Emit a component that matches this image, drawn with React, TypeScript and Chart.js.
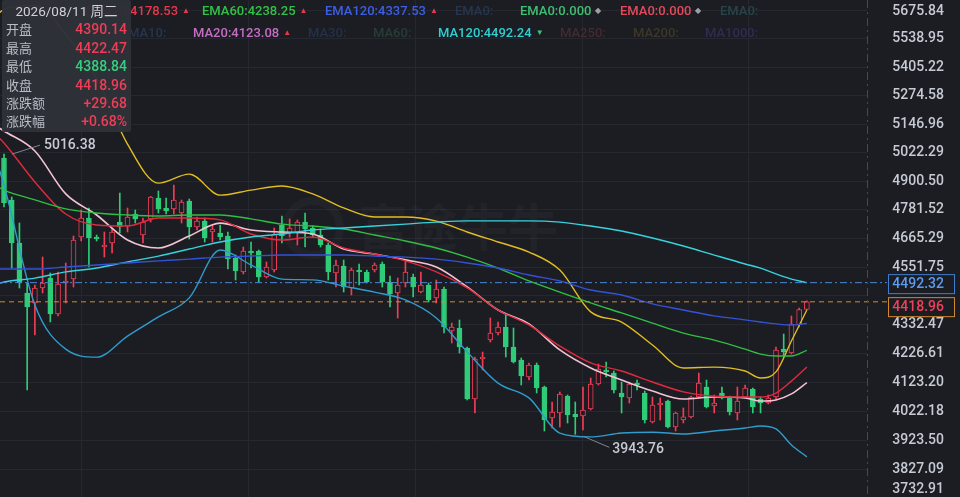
import React, { useEffect, useRef } from "react";
import { Chart, registerables } from "chart.js";

Chart.register(...registerables);

const BG = "#1b1d23";
const UP = "#f03d56";
const DOWN = "#2fcb78";
const GRID = "#25282e";
const NUM_FONT = "Roboto, 'Noto Sans', sans-serif";
const CJK_FONT = "'Noto Sans CJK SC', 'Noto Sans', sans-serif";

const DATE_TEXT = "2026/08/11 周二";

// ---- daily candles (index 0..104) ----
const OPEN = [
  4999.8, 4822.6, 4647.9, 4452.6, 4414.5, 4471.7, 4510.3, 4373.0, 4491.0, 4506.4,
  4671.9, 4748.7, 4671.9, 4631.9, 4647.9, 4732.4, 4716.2, 4765.0, 4679.9, 4744.6,
  4830.9, 4789.8, 4785.5, 4769.1, 4818.4, 4712.2, 4736.5, 4692.0, 4688.0, 4675.9,
  4588.4, 4533.6, 4616.0, 4616.0, 4514.2, 4541.4, 4720.2, 4688.0, 4688.0, 4732.4,
  4708.1, 4679.9, 4639.9, 4529.7, 4557.0, 4471.7, 4541.4, 4533.6, 4541.4, 4564.9,
  4494.8, 4452.6, 4491.0, 4514.2, 4456.4, 4483.3, 4433.5, 4467.8, 4309.6, 4320.7,
  4247.1, 4065.2, 4207.2, 4276.4, 4302.2, 4324.4, 4250.8, 4203.6, 4142.7, 4185.6,
  4107.3, 3999.4, 4016.7, 4075.7, 4013.3, 4006.5, 4030.4, 4117.8, 4167.7, 4157.0,
  4086.2, 4068.7, 4121.3, 4086.2, 3985.7, 4044.3, 4058.2, 3968.6, 3992.5, 4003.1,
  4072.2, 4107.3, 4041.0, 4086.2, 4072.2, 4016.7, 4072.2, 4100.2, 4065.2, 4051.3,
  4072.2, 4243.5, 4228.9, 4332.0, 4390.14,
];
const HIGH = [
  5016.38, 4835.1, 4728.4, 4491.0, 4483.3, 4592.4, 4529.7, 4533.6, 4568.8, 4675.9,
  4781.4, 4789.8, 4679.9, 4692.0, 4708.1, 4851.7, 4789.8, 4781.4, 4748.7, 4838.0,
  4860.0, 4830.9, 4885.2, 4822.6, 4826.7, 4752.8, 4748.7, 4720.2, 4720.2, 4692.0,
  4600.2, 4631.9, 4651.8, 4620.0, 4572.7, 4708.1, 4756.9, 4744.6, 4740.5, 4769.1,
  4716.2, 4704.0, 4647.9, 4580.5, 4580.5, 4549.2, 4564.9, 4541.4, 4568.8, 4572.7,
  4518.1, 4510.3, 4580.5, 4525.9, 4533.6, 4491.0, 4502.5, 4475.5, 4339.3, 4350.5,
  4250.8, 4214.4, 4232.5, 4358.0, 4343.1, 4369.3, 4320.7, 4210.8, 4192.8, 4192.8,
  4110.8, 4054.7, 4089.7, 4079.2, 4054.7, 4107.3, 4139.2, 4189.2, 4196.4, 4164.2,
  4124.9, 4124.9, 4132.0, 4093.2, 4072.2, 4068.7, 4061.7, 4020.0, 4034.0, 4075.7,
  4157.0, 4132.0, 4079.2, 4107.3, 4075.0, 4107.3, 4114.4, 4103.7, 4072.2, 4079.2,
  4250.8, 4298.5, 4365.5, 4395.0, 4422.47,
];
const LOW = [
  4793.8, 4549.2, 4471.7, 4096.7, 4294.9, 4452.6, 4343.1, 4365.5, 4414.5, 4475.5,
  4655.8, 4553.1, 4655.8, 4592.4, 4608.1, 4688.0, 4692.0, 4728.4, 4647.9, 4732.4,
  4769.1, 4765.0, 4765.0, 4728.4, 4663.8, 4700.0, 4651.8, 4651.8, 4659.8, 4545.3,
  4502.5, 4525.9, 4549.2, 4494.8, 4510.3, 4533.6, 4647.9, 4671.9, 4639.9, 4631.9,
  4671.9, 4631.9, 4502.5, 4475.5, 4456.4, 4445.0, 4483.3, 4491.0, 4533.6, 4475.5,
  4399.4, 4358.0, 4475.5, 4437.4, 4452.6, 4418.3, 4414.5, 4302.2, 4265.4, 4228.9,
  4061.7, 4016.7, 4167.7, 4269.0, 4294.9, 4214.4, 4192.8, 4114.4, 4132.0, 4086.2,
  3955.0, 3965.2, 3968.6, 3982.3, 3943.76, 3958.4, 4027.0, 4114.4, 4142.7, 4086.2,
  4016.7, 4051.3, 4096.7, 3982.3, 3982.3, 3992.5, 3965.2, 3955.0, 3982.3, 3999.4,
  4068.7, 4034.0, 4016.7, 4065.2, 4009.8, 3992.5, 4068.7, 4016.7, 4016.7, 4047.8,
  4065.2, 4214.4, 4225.2, 4325.0, 4388.84,
];
const CLOSE = [
  4810.2, 4647.9, 4491.0, 4399.4, 4471.7, 4491.0, 4373.0, 4487.1, 4498.7, 4659.8,
  4748.7, 4667.9, 4663.8, 4639.9, 4692.0, 4712.2, 4752.8, 4744.6, 4732.4, 4835.1,
  4785.5, 4777.3, 4822.6, 4814.3, 4712.2, 4736.5, 4667.9, 4704.0, 4671.9, 4584.4,
  4537.5, 4616.0, 4608.1, 4514.2, 4553.1, 4684.0, 4675.9, 4708.1, 4732.4, 4704.0,
  4679.9, 4639.9, 4533.6, 4561.0, 4475.5, 4541.4, 4533.6, 4494.8, 4561.0, 4494.8,
  4448.8, 4483.3, 4533.6, 4475.5, 4483.3, 4425.9, 4467.8, 4324.4, 4324.4, 4250.8,
  4065.2, 4207.2, 4214.4, 4302.2, 4324.4, 4250.8, 4196.4, 4146.3, 4185.6, 4103.7,
  3992.5, 4020.1, 4082.7, 4009.8, 4003.1, 4027.0, 4117.8, 4171.3, 4160.6, 4096.7,
  4072.2, 4117.8, 4114.4, 3992.5, 4044.3, 4051.3, 3968.6, 4016.7, 4003.1, 4072.2,
  4121.3, 4037.5, 4051.3, 4068.7, 4020.1, 4058.2, 4103.7, 4037.5, 4051.3, 4068.7,
  4239.8, 4232.5, 4335.6, 4389.28, 4418.96,
];

// ---- indicator lines, sampled at these candle indices ----
const LINE_X = [-1, 0, 4, 8, 12, 16, 20, 24, 28, 32, 36, 40, 44, 48, 52, 56, 60, 64, 68, 72, 76, 80, 84, 88, 92, 96, 98, 100, 102, 104];
const BOLL_UP = [5650, 5680, 5700, 5560, 5355, 5060, 4893, 4931, 4843, 4864, 4881, 4848, 4790, 4753, 4753, 4736, 4692, 4652, 4612, 4541, 4381, 4343, 4258, 4175, 4178, 4164, 4139, 4161, 4273, 4388];
const BOLL_LO = [4991, 4885, 4407, 4243, 4214, 4291, 4362, 4434, 4620, 4561, 4506, 4503, 4479, 4456, 4426, 4358, 4233, 4121, 4069, 3948, 3935, 3948, 3951, 3945, 3955, 3965, 3972, 3962, 3908, 3868];
const MA20 = [5139, 5117, 5030, 4848, 4761, 4660, 4628, 4676, 4728, 4700, 4692, 4684, 4624, 4604, 4581, 4553, 4476, 4388, 4336, 4240, 4175, 4132, 4093, 4065, 4072, 4069, 4058, 4062, 4083, 4123.08];
const EMA20 = [5099, 5065, 4898, 4765, 4720, 4716, 4749, 4749, 4741, 4684, 4660, 4672, 4628, 4604, 4577, 4534, 4472, 4388, 4332, 4254, 4193, 4164, 4125, 4090, 4075, 4072, 4072, 4086, 4128, 4178.53];
const EMA60 = [4881, 4864, 4823, 4786, 4769, 4761, 4757, 4761, 4761, 4745, 4724, 4716, 4704, 4680, 4656, 4628, 4592, 4549, 4499, 4456, 4415, 4377, 4339, 4302, 4276, 4243, 4225, 4218, 4218, 4238.25];
const EMA120 = [4545, 4545, 4545, 4553, 4561, 4569, 4577, 4584, 4592, 4596, 4600, 4600, 4600, 4596, 4592, 4584, 4569, 4549, 4522, 4499, 4464, 4445, 4411, 4388, 4366, 4351, 4343, 4336, 4332, 4337.53];
const MA120 = [4487, 4495, 4510, 4534, 4549, 4573, 4596, 4624, 4652, 4672, 4684, 4700, 4708, 4716, 4724, 4732, 4737, 4737, 4737, 4732, 4716, 4696, 4668, 4636, 4600, 4565, 4549, 4526, 4506, 4492.24];

const MA120_REF = 4492.32;
const LAST_CLOSE = 4418.96;

// ---- axis ----
const Y_TICKS = [5675.84, 5538.95, 5405.22, 5274.58, 5146.96, 5022.29, 4900.5, 4781.52, 4665.29, 4551.75, 4441.8, 4332.47, 4226.61, 4123.2, 4022.18, 3923.5, 3827.09, 3732.91];
const X_GRID = [10.1, 31.7, 53.3, 74.9, 96.5];
const Y_MIN = 3737.1;
const Y_MAX = 5726.3;
const X_MIN = -0.518;
const X_MAX = 111.79;

const last = (a: number[]) => a[a.length - 1];
const fmt = (v: number) => v.toFixed(2);

const overlayPlugin = {
  id: "overlay",
  beforeDatasetsDraw(chart: any) {
    const { ctx } = chart;
    ctx.save();
    ctx.strokeStyle = "rgba(255,255,255,0.028)";
    ctx.lineWidth = 8;
    ctx.beginPath();
    ctx.arc(313, 228, 27, 0, Math.PI * 2);
    ctx.stroke();
    ctx.fillStyle = "rgba(255,255,255,0.028)";
    ctx.font = `bold 50px ${CJK_FONT}`;
    ctx.textBaseline = "alphabetic";
    ctx.fillText("富途牛牛", 358, 246);
    ctx.restore();
  },
  afterDatasetsDraw(chart: any) {
    const { ctx, chartArea } = chart;
    const x = chart.scales.x;
    const y = chart.scales.y;
    ctx.save();
    const yRef = y.getPixelForValue(MA120_REF);
    const yLast = y.getPixelForValue(LAST_CLOSE);
    ctx.lineWidth = 1;
    ctx.strokeStyle = "#4a86d8";
    ctx.setLineDash([7, 3, 2, 3]);
    ctx.beginPath();
    ctx.moveTo(0, yRef);
    ctx.lineTo(887, yRef);
    ctx.stroke();
    ctx.strokeStyle = "#d18b2f";
    ctx.setLineDash([5, 4]);
    ctx.beginPath();
    ctx.moveTo(0, yLast);
    ctx.lineTo(887, yLast);
    ctx.stroke();
    ctx.strokeStyle = "#3c4a62";
    ctx.setLineDash([8, 4, 2, 4]);
    ctx.beginPath();
    ctx.moveTo(chartArea.right + 0.5, 0);
    ctx.lineTo(chartArea.right + 0.5, chart.height);
    ctx.stroke();
    ctx.setLineDash([]);

    let iMax = 0;
    let iMin = 0;
    HIGH.forEach((v, i) => { if (v > HIGH[iMax]) iMax = i; });
    LOW.forEach((v, i) => { if (v < LOW[iMin]) iMin = i; });
    ctx.font = `500 14px ${NUM_FONT}`;
    ctx.fillStyle = "#c6cad2";
    ctx.strokeStyle = "#80848c";
    ctx.textBaseline = "middle";
    ctx.textAlign = "left";
    const hx = x.getPixelForValue(iMax);
    const hy = y.getPixelForValue(HIGH[iMax]);
    ctx.beginPath();
    ctx.moveTo(hx + 8, hy);
    ctx.lineTo(hx + 36, hy - 9);
    ctx.stroke();
    ctx.fillText(fmt(HIGH[iMax]), hx + 40, hy - 9);
    const lx = x.getPixelForValue(iMin);
    const ly = y.getPixelForValue(LOW[iMin]);
    ctx.beginPath();
    ctx.moveTo(lx + 8, ly + 2);
    ctx.lineTo(lx + 34, ly + 13);
    ctx.stroke();
    ctx.fillText(fmt(LOW[iMin]), lx + 37, ly + 15);
    ctx.restore();
  },
  afterDraw(chart: any) {
    const { ctx } = chart;
    const y = chart.scales.y;
    ctx.save();
    const b1c = y.getPixelForValue(MA120_REF) + 1;
    const b1top = b1c - 9.5;
    const b2top = Math.max(y.getPixelForValue(LAST_CLOSE) - 9.5, b1top + 19 + 4);
    const boxes = [
      { top: b1top, text: fmt(MA120_REF), border: "#3f7fd0", color: "#5b9cf0" },
      { top: b2top, text: fmt(LAST_CLOSE), border: "#d2892e", color: "#f0405a" },
    ];
    ctx.font = `500 14px ${NUM_FONT}`;
    ctx.textAlign = "right";
    ctx.textBaseline = "middle";
    Y_TICKS.forEach((v) => {
      const py = y.getPixelForValue(v);
      const hidden = boxes.some((b) => py > b.top - 3 && py < b.top + 22);
      if (hidden) return;
      const ty = Math.min(Math.max(py, 11), 489);
      ctx.fillStyle = "#c6cad2";
      ctx.fillText(fmt(v), 944, ty);
    });
    boxes.forEach((b) => {
      ctx.fillStyle = BG;
      ctx.fillRect(888.5, b.top, 66, 19);
      ctx.strokeStyle = b.border;
      ctx.lineWidth = 1;
      ctx.strokeRect(888.5, b.top + 0.5, 66, 19);
      ctx.fillStyle = b.color;
      ctx.fillText(b.text, 944, b.top + 10);
    });
    ctx.restore();
  },
};

type LegendItem = { label: string; color: string; left?: number; rightEdge?: number; mark?: string; markColor?: string };

const ROW1: LegendItem[] = [
  { label: "EMA20:" + fmt(last(EMA20)), color: "#e8364c", rightEdge: 190, mark: "▲", markColor: "#e8364c" },
  { label: "EMA60:" + fmt(last(EMA60)), color: "#33c048", left: 202, mark: "▲", markColor: "#e8364c" },
  { label: "EMA120:" + fmt(last(EMA120)), color: "#3d5ee6", left: 325, mark: "▲", markColor: "#e8364c" },
  { label: "EMA0:", color: "#27364e", left: 455 },
  { label: "EMA0:0.000", color: "#3fbf72", left: 520, mark: "◆", markColor: "#9aa0a8" },
  { label: "EMA0:0.000", color: "#e34a5a", left: 620, mark: "◆", markColor: "#9aa0a8" },
  { label: "EMA0:", color: "#284448", left: 720 },
];
const ROW2: LegendItem[] = [
  { label: "MA10:", color: "#27364e", left: 128 },
  { label: "MA20:" + fmt(last(MA20)), color: "#c56ec4", left: 193, mark: "▲", markColor: "#e8364c" },
  { label: "MA30:", color: "#243147", left: 308 },
  { label: "MA60:", color: "#283d36", left: 373 },
  { label: "MA120:" + fmt(last(MA120)), color: "#2fd0d2", left: 438, mark: "▼", markColor: "#2fcb78" },
  { label: "MA250:", color: "#452a31", left: 560 },
  { label: "MA200:", color: "#3d3826", left: 633 },
  { label: "MA1000:", color: "#322b52", left: 705 },
];

function Legend({ items, top }: { items: LegendItem[]; top: number }) {
  return (
    <>
      {items.map((it, k) => (
        <div
          key={k}
          style={{
            position: "absolute",
            top,
            left: it.left,
            right: it.rightEdge !== undefined ? 960 - it.rightEdge : undefined,
            font: `500 13px ${NUM_FONT}`,
            lineHeight: "16px",
            color: it.color,
            whiteSpace: "nowrap",
          }}
        >
          {it.label}
          {it.mark ? (
            <span style={{ fontSize: 8, marginLeft: 4, color: it.markColor, position: "relative", top: -2 }}>{it.mark}</span>
          ) : null}
        </div>
      ))}
    </>
  );
}

export default function App() {
  const ref = useRef<HTMLCanvasElement | null>(null);

  useEffect(() => {
    if (!ref.current) return;
    const idx = OPEN.map((_, i) => i);
    const up = idx.map((i) => CLOSE[i] >= OPEN[i]);
    const lineDs = (label: string, data: number[], color: string, width = 1.4) => ({
      type: "line" as const,
      label,
      data: LINE_X.map((x, k) => ({ x, y: data[k] })),
      borderColor: color,
      borderWidth: width,
      pointRadius: 0,
      cubicInterpolationMode: "monotone" as const,
      order: 1,
    });
    const chart = new Chart(ref.current, {
      type: "bar",
      data: {
        datasets: [
          {
            type: "bar",
            label: "wick",
            data: idx.map((i) => ({ x: i, y: [LOW[i], HIGH[i]] })) as any,
            backgroundColor: idx.map((i) => (up[i] ? UP : DOWN)),
            barThickness: 1,
            grouped: false,
            order: 3,
          },
          {
            type: "bar",
            label: "body",
            data: idx.map((i) => ({ x: i, y: [OPEN[i], CLOSE[i]] })) as any,
            backgroundColor: idx.map((i) => (up[i] ? BG : DOWN)),
            borderColor: idx.map((i) => (up[i] ? UP : DOWN)),
            borderWidth: 1,
            borderSkipped: false,
            barThickness: 5,
            minBarLength: 1,
            grouped: false,
            order: 2,
          },
          lineDs("EMA120", EMA120, "#3452d8"),
          lineDs("MA120", MA120, "#36d3dc"),
          lineDs("EMA60", EMA60, "#2fbf42"),
          lineDs("BOLL_UP", BOLL_UP, "#e2bd22"),
          lineDs("BOLL_LO", BOLL_LO, "#2f9ccd"),
          lineDs("EMA20", EMA20, "#e02a3e"),
          lineDs("MA20", MA20, "#f3c3d3", 1.6),
        ] as any,
      },
      options: {
        animation: false,
        responsive: true,
        maintainAspectRatio: false,
        events: [],
        layout: { padding: 0 },
        plugins: { legend: { display: false }, tooltip: { enabled: false } },
        scales: {
          x: {
            type: "linear",
            min: X_MIN,
            max: X_MAX,
            offset: false,
            grid: { color: GRID, drawTicks: false, offset: false },
            border: { display: false },
            ticks: { display: false },
            afterBuildTicks: (s: any) => {
              s.ticks = X_GRID.map((v) => ({ value: v }));
            },
            afterFit: (s: any) => {
              s.height = 0;
            },
          },
          y: {
            type: "logarithmic",
            position: "right",
            min: Y_MIN,
            max: Y_MAX,
            grid: { color: GRID, drawTicks: false },
            border: { display: false },
            ticks: { display: false },
            afterBuildTicks: (s: any) => {
              s.ticks = Y_TICKS.map((v) => ({ value: v }));
            },
            afterFit: (s: any) => {
              s.width = 93;
            },
          },
        },
      } as any,
      plugins: [overlayPlugin],
    });
    return () => chart.destroy();
  }, []);

  const n = CLOSE.length - 1;
  const chg = CLOSE[n] - CLOSE[n - 1];
  const pct = (chg / CLOSE[n - 1]) * 100;
  const rows = [
    { k: "开盘", v: fmt(OPEN[n]), c: OPEN[n] >= CLOSE[n - 1] ? UP : DOWN },
    { k: "最高", v: fmt(HIGH[n]), c: HIGH[n] >= CLOSE[n - 1] ? UP : DOWN },
    { k: "最低", v: fmt(LOW[n]), c: LOW[n] >= CLOSE[n - 1] ? UP : "#35d07f" },
    { k: "收盘", v: fmt(CLOSE[n]), c: CLOSE[n] >= CLOSE[n - 1] ? UP : DOWN },
    { k: "涨跌额", v: (chg >= 0 ? "+" : "") + chg.toFixed(2), c: chg >= 0 ? UP : DOWN },
    { k: "涨跌幅", v: (pct >= 0 ? "+" : "") + pct.toFixed(2) + "%", c: pct >= 0 ? UP : DOWN },
  ];
  const rowTops = [20, 39, 57, 76, 94, 112];

  return (
    <div style={{ position: "fixed", left: 0, top: 0, width: 960, height: 497, background: BG, overflow: "hidden" }}>
      <canvas ref={ref} style={{ display: "block" }} />
      <Legend items={ROW1} top={3} />
      <Legend items={ROW2} top={25} />
      <div
        style={{
          position: "absolute",
          left: 2,
          top: 0,
          width: 129,
          height: 132,
          background: "rgba(46,49,56,0.97)",
          borderRadius: 2,
        }}
      >
        <div
          style={{
            position: "absolute",
            left: 0,
            width: 129,
            top: 2,
            textAlign: "center",
            font: `13.5px Roboto, 'Noto Sans CJK SC', sans-serif`,
            lineHeight: "18px",
            color: "#cfd2d8",
          }}
        >
          {DATE_TEXT}
        </div>
        {rows.map((r, k) => (
          <React.Fragment key={k}>
            <div
              style={{
                position: "absolute",
                left: 4,
                top: rowTops[k],
                font: `13px ${CJK_FONT}`,
                lineHeight: "18px",
                color: "#b9bdc4",
              }}
            >
              {r.k}
            </div>
            <div
              style={{
                position: "absolute",
                right: 4,
                top: rowTops[k],
                font: `500 14px ${NUM_FONT}`,
                lineHeight: "18px",
                color: r.c,
              }}
            >
              {r.v}
            </div>
          </React.Fragment>
        ))}
      </div>
    </div>
  );
}
